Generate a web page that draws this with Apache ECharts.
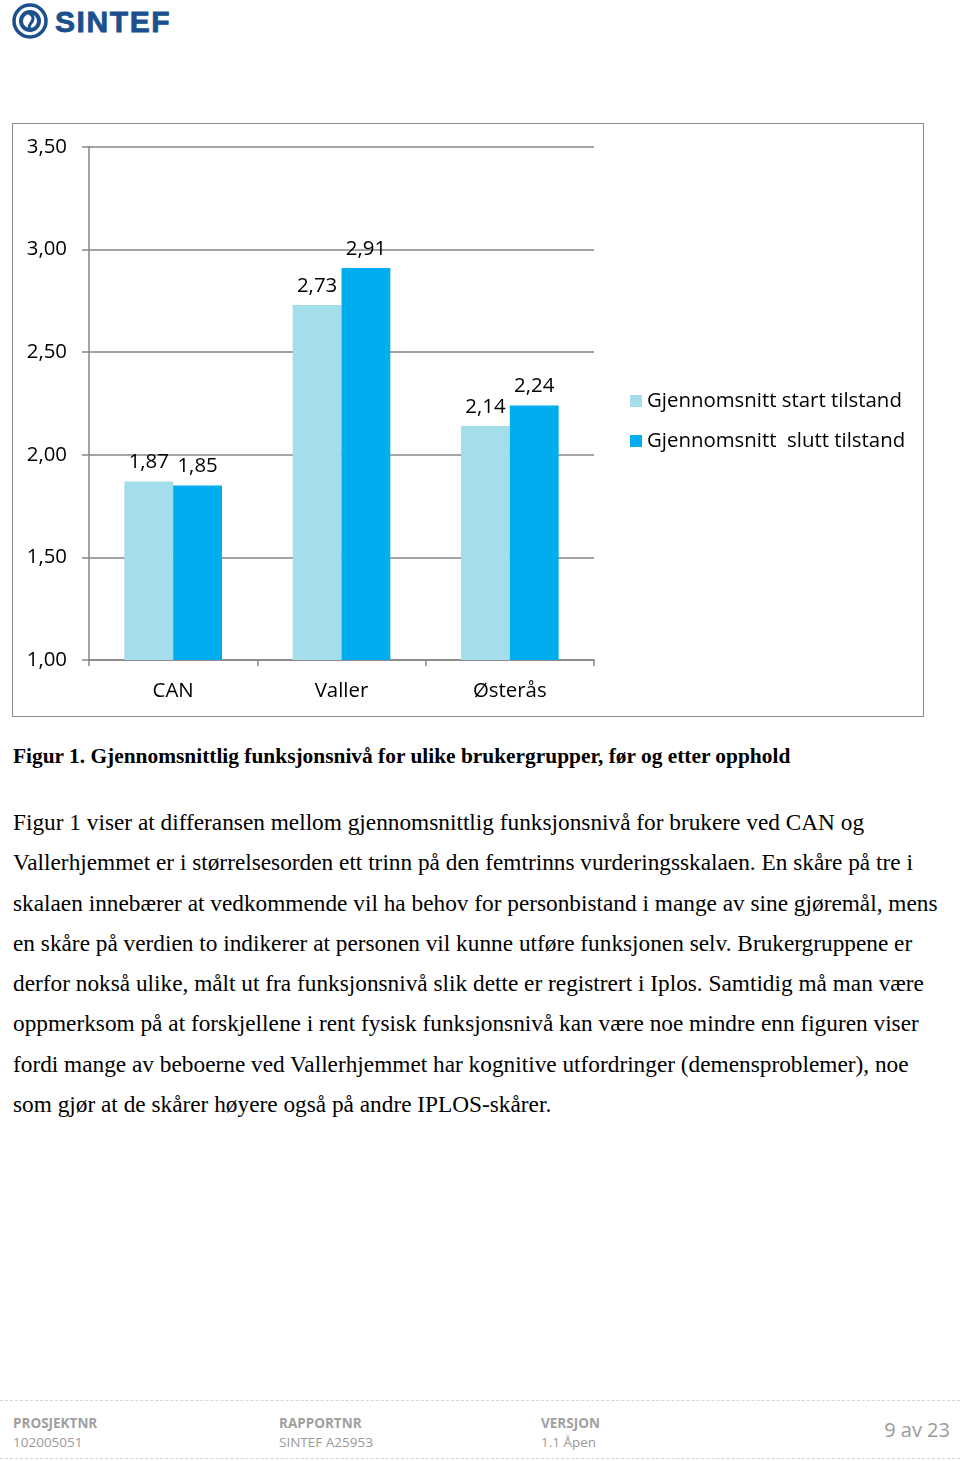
<!DOCTYPE html>
<html><head><meta charset="utf-8">
<script src="https://cdn.jsdelivr.net/npm/echarts@6/dist/echarts.min.js"></script>
<style>
html,body{margin:0;padding:0;background:#fff;width:960px;height:1461px;overflow:hidden;position:relative;}
#logo{position:absolute;left:12px;top:3px;}
#chartbox{position:absolute;left:12px;top:123px;width:910px;height:592px;border:1.5px solid #8c8c8c;}
#chart{width:910px;height:592px;}
.cap{position:absolute;left:13px;top:744px;font-family:"Liberation Serif","Times New Roman",serif;font-weight:bold;font-size:21.4px;color:#000;white-space:nowrap;}
.para{position:absolute;left:13px;top:802px;font-family:"Liberation Serif","Times New Roman",serif;font-size:23.3px;line-height:40.3px;color:#000;white-space:nowrap;}
.dash{position:absolute;left:0;width:960px;border-top:1.5px dashed #d6d6d6;}
.ft{position:absolute;font-family:"Open Sans","Noto Sans",sans-serif;color:#9a9a9a;font-size:13.5px;line-height:19px;}
.ft b{font-weight:bold;color:#a0a0a0;}
.pg{position:absolute;right:10px;top:1416px;font-family:"Open Sans","Noto Sans",sans-serif;color:#9a9a9a;font-size:20px;}
</style></head>
<body>
<svg id="logo" width="180" height="36" viewBox="0 0 180 36">
  <circle cx="18" cy="18" r="16" fill="none" stroke="#1b4f8e" stroke-width="3.5"/>
  <circle cx="18" cy="18" r="9" fill="none" stroke="#1b4f8e" stroke-width="4"/>
  <path d="M17 10 Q24 14 19 20 Q15 25 20 28" fill="none" stroke="#1b4f8e" stroke-width="3"/>
  <text x="43" y="29" font-family="Liberation Sans, Arial, sans-serif" font-weight="900" font-size="30" fill="#1b4f8e" stroke="#1b4f8e" stroke-width="0.8" letter-spacing="1.6">SINTEF</text>
</svg>
<div id="chartbox"><div id="chart"></div></div>
<div class="cap">Figur 1. Gjennomsnittlig funksjonsnivå for ulike brukergrupper, før og etter opphold</div>
<div class="para">Figur 1 viser at differansen mellom gjennomsnittlig funksjonsnivå for brukere ved CAN og<br>Vallerhjemmet er i størrelsesorden ett trinn på den femtrinns vurderingsskalaen. En skåre på tre i<br>skalaen innebærer at vedkommende vil ha behov for personbistand i mange av sine gjøremål, mens<br>en skåre på verdien to indikerer at personen vil kunne utføre funksjonen selv. Brukergruppene er<br>derfor nokså ulike, målt ut fra funksjonsnivå slik dette er registrert i Iplos. Samtidig må man være<br>oppmerksom på at forskjellene i rent fysisk funksjonsnivå kan være noe mindre enn figuren viser<br>fordi mange av beboerne ved Vallerhjemmet har kognitive utfordringer (demensproblemer), noe<br>som gjør at de skårer høyere også på andre IPLOS-skårer.</div>
<div class="dash" style="top:1400px"></div>
<div class="dash" style="top:1458px"></div>
<div class="ft" style="left:13px;top:1414px"><b>PROSJEKTNR</b><br>102005051</div>
<div class="ft" style="left:279px;top:1414px"><b>RAPPORTNR</b><br>SINTEF A25953</div>
<div class="ft" style="left:541px;top:1414px"><b>VERSJON</b><br>1.1 Åpen</div>
<div class="pg">9 av 23</div>
<script>
var categories = ["CAN", "Valler", "Østerås"];
var seriesNames = ["Gjennomsnitt start tilstand", "Gjennomsnitt  slutt tilstand"];
var startValues = [1.87, 2.73, 2.14];
var endValues = [1.85, 2.91, 2.24];
var yTicks = {min: 1, max: 3.5, interval: 0.5};

var FONT = '"Open Sans", "Noto Sans", sans-serif';
var FS = 20.4;
function fmt(v){ return v.toFixed(2).replace('.', ','); }
var chart = echarts.init(document.getElementById('chart'));
var lbl = {show:true, position:'top', distance:9, fontFamily:FONT, fontSize:FS, color:'#000',
  formatter:function(p){return fmt(p.value);}};
chart.setOption({
  animation:false,
  textStyle:{fontFamily:FONT},
  grid:{left:76, top:23, width:505, height:513, containLabel:false},
  legend:{orient:'vertical', left:612, top:262, itemWidth:12, itemHeight:12, itemGap:20,
    icon:'rect', textStyle:{fontFamily:FONT, fontSize:FS, color:'#000'},
    data:seriesNames},
  xAxis:{type:'category', data:categories,
    axisLine:{lineStyle:{color:'#868686', width:1.5}},
    axisTick:{show:true, length:6, lineStyle:{color:'#868686', width:1.5}},
    axisLabel:{fontFamily:FONT, fontSize:FS, color:'#000', margin:21}},
  yAxis:{type:'value', min:yTicks.min, max:yTicks.max, interval:yTicks.interval,
    axisLine:{show:true, lineStyle:{color:'#868686', width:1.5}},
    axisTick:{show:true, length:7, lineStyle:{color:'#868686', width:1.5}},
    splitLine:{lineStyle:{color:'#868686', width:1.5}},
    axisLabel:{fontFamily:FONT, fontSize:FS, color:'#000', margin:22, formatter:fmt}},
  series:[
    {name:seriesNames[0], type:'bar', data:startValues, barGap:'0%', barCategoryGap:'42%',
      itemStyle:{color:'#a5deeb'}, label:lbl},
    {name:seriesNames[1], type:'bar', data:endValues, barGap:'0%', barCategoryGap:'42%',
      itemStyle:{color:'#00aeef'}, label:lbl}
  ]
});
</script>
</body></html>
